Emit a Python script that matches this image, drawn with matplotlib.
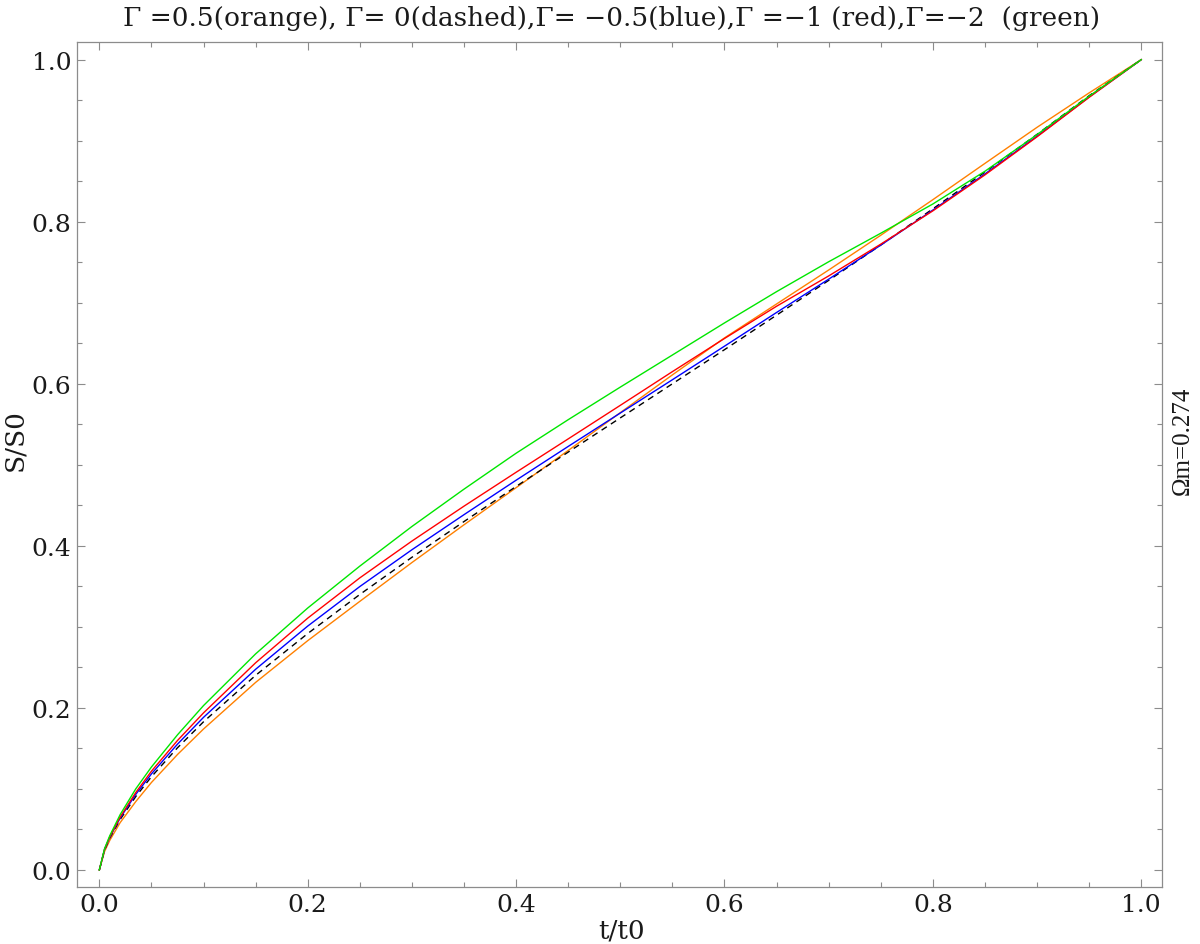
import numpy as np
import matplotlib
matplotlib.use('Agg')
import matplotlib.pyplot as plt
from matplotlib.ticker import MultipleLocator

# t/t0 sample points
t_ratio = [0, 0.005, 0.01, 0.02, 0.035, 0.05, 0.075, 0.1, 0.15, 0.2, 0.25, 0.3,
           0.35, 0.4, 0.45, 0.5, 0.55, 0.6, 0.65, 0.7, 0.75, 0.8, 0.85, 0.9,
           0.95, 1.0]

# S/S0
s_dashed = [0, 0.0248, 0.0393, 0.0624, 0.0907, 0.1151, 0.1508, 0.1829, 0.2402,
            0.2918, 0.3400, 0.3859, 0.4300, 0.4733, 0.5157, 0.5579, 0.6000,
            0.6421, 0.6847, 0.7276, 0.7713, 0.8159, 0.8613, 0.9078, 0.9555, 1.0]
s_green = [0, 0.0263, 0.0423, 0.0684, 0.1002, 0.1271, 0.1668, 0.2029, 0.2667,
           0.3233, 0.3750, 0.4239, 0.4700, 0.5143, 0.5557, 0.5959, 0.6355,
           0.6751, 0.7137, 0.7506, 0.7858, 0.8219, 0.8623, 0.9075, 0.9550, 1.0]
s_red = [0, 0.0256, 0.0408, 0.0654, 0.0957, 0.1219, 0.1598, 0.1939, 0.2557,
         0.3108, 0.3605, 0.4059, 0.4490, 0.4908, 0.5320, 0.5734, 0.6150,
         0.6559, 0.6957, 0.7331, 0.7723, 0.8134, 0.8578, 0.9048, 0.9535, 1.0]
s_blue = [0, 0.0253, 0.0403, 0.0642, 0.0934, 0.1186, 0.1553, 0.1884, 0.2477,
          0.3010, 0.3498, 0.3952, 0.4385, 0.4810, 0.5227, 0.5639, 0.6050,
          0.6464, 0.6880, 0.7291, 0.7711, 0.8144, 0.8590, 0.9055, 0.9540, 1.0]
s_orange = [0, 0.0228, 0.0365, 0.0585, 0.0845, 0.1080, 0.1425, 0.1740, 0.2315,
            0.2830, 0.3315, 0.3794, 0.4260, 0.4718, 0.5177, 0.5644, 0.6110,
            0.6566, 0.6985, 0.7404, 0.7833, 0.8272, 0.8720, 0.9165, 0.9590, 1.0]

title = (u'\u0393 =0.5(orange), \u0393= 0(dashed),\u0393= \u22120.5(blue),'
         u'\u0393 =\u22121 (red),\u0393=\u22122  (green)')

SERIF = ['DejaVu Serif']
GRAY = '#8c8c8c'
INK = '#1a1a1a'


def main():
    fig = plt.figure(figsize=(12, 9.45), dpi=100)
    ax = fig.add_axes([0.0642, 0.0603, 0.9041, 0.8942])

    ax.plot(t_ratio, s_orange, color='#ff8000', lw=1.0)
    ax.plot(t_ratio, s_dashed, color='black', lw=1.0, dashes=(4.5, 3.5))
    ax.plot(t_ratio, s_blue, color='#0000ff', lw=1.0)
    ax.plot(t_ratio, s_red, color='#ff0000', lw=1.0)
    ax.plot(t_ratio, s_green, color='#00e600', lw=1.0)

    ax.set_xlim(-0.0214, 1.0199)
    ax.set_ylim(-0.021, 1.0218)

    for a in (ax.xaxis, ax.yaxis):
        a.set_major_locator(MultipleLocator(0.2))
        a.set_minor_locator(MultipleLocator(0.05))
    ax.xaxis.set_major_formatter(plt.FormatStrFormatter('%.1f'))
    ax.yaxis.set_major_formatter(plt.FormatStrFormatter('%.1f'))

    ax.tick_params(which='both', direction='in', top=True, right=True,
                   color=GRAY, width=0.8, labelcolor=INK)
    ax.tick_params(which='major', length=5.5, labelsize=18, pad=4)
    ax.tick_params(which='minor', length=3.5)
    for lab in ax.get_xticklabels() + ax.get_yticklabels():
        lab.set_family(SERIF)
    for s in ax.spines.values():
        s.set_color(GRAY)
        s.set_linewidth(0.9)

    fig.text(0.51, 0.980, title, ha='center', va='center', fontsize=19,
             family=SERIF, color=INK)
    fig.text(0.518, 0.015, 't/t0', ha='center', va='center', fontsize=19,
             family=SERIF, color=INK)
    fig.text(0.0125, 0.534, 'S/S0', ha='center', va='center', fontsize=19,
             family=SERIF, rotation=90, color=INK)
    fig.text(0.986, 0.534, u'\u03a9m=0.274', ha='center', va='center',
             fontsize=18, family=['Liberation Serif'], rotation=90, color=INK)

    fig.savefig('out.png', dpi=100)


if __name__ == '__main__':
    main()
